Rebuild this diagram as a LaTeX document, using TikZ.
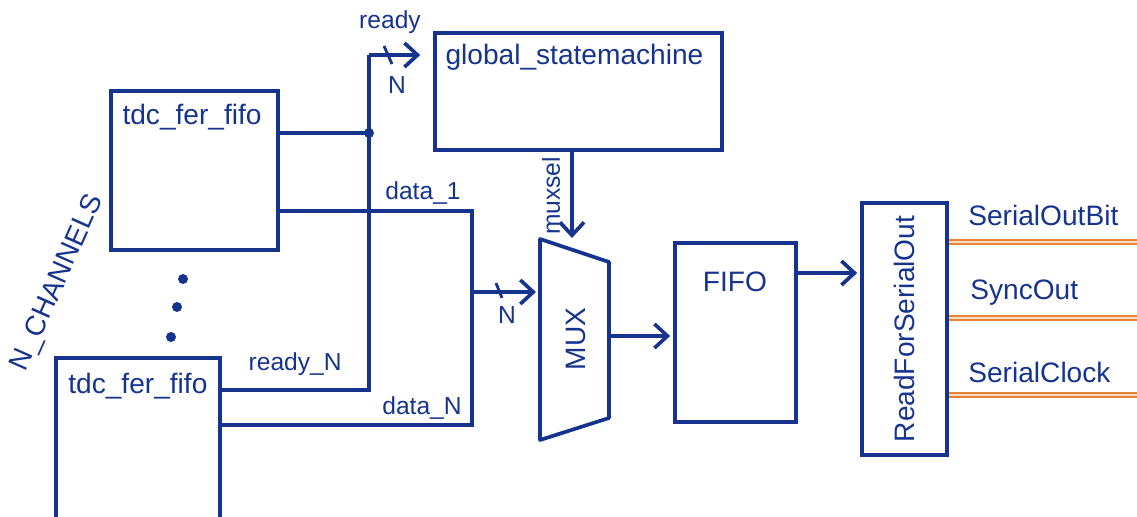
\documentclass[tikz,border=0pt]{standalone}
\usepackage{fontspec}
\setmainfont{Liberation Sans}
\usetikzlibrary{arrows.meta, positioning, calc}

\definecolor{sigblue}{RGB}{22,52,142}
\definecolor{outorange}{RGB}{228,132,52}

\tikzset{
    blk/.style={draw=sigblue, line width=2.1pt, inner sep=0pt},
    wire/.style={draw=sigblue, line width=2.1pt},
    sig/.style={wire, -{Straight Barb[length=2.6mm, width=4.8mm, line width=2.1pt]}},
    bus/.style={draw=sigblue, line width=1.6pt},
    lbl/.style={text=sigblue, font=\fontsize{14}{16}\selectfont, inner sep=0pt},
    big/.style={text=sigblue, font=\fontsize{16}{19}\selectfont, inner sep=0pt},
    outwire/.style={draw=outorange, line width=0.9pt, double=outorange!30, double distance=1.3pt},
    dot/.style={circle, fill=sigblue, inner sep=0pt, minimum size=0.2cm}
}

\begin{document}
\begin{tikzpicture}[x=0.02cm, y=-0.02cm]
    \useasboundingbox (0,0) rectangle (1137,517);

    % blocks
    \node[blk, minimum width=3.34cm, minimum height=3.18cm] (fifo1) at (194.5,170.5) {};
    \node[big, anchor=north west] (fifo1txt) at ($(fifo1.north west)+(13,15)$) {tdc\_fer\_fifo};
    \node[blk, minimum width=5.74cm, minimum height=2.34cm] (gsm) at (578.5,91.5) {};
    \node[big, anchor=north west] (gsmtxt) at ($(gsm.north west)+(12,13)$) {global\_statemachine};
    \node[blk, minimum width=2.42cm, minimum height=3.58cm] (fifo) at (735.5,332.5) {};
    \node[big] (fifotxt) at (735,282) {FIFO};
    \node[blk, minimum width=1.7cm, minimum height=5.04cm] (rso) at (904.5,329) {};
    \node[big, rotate=90] (rsotxt) at (rso.center) {ReadForSerialOut};

    % second channel, runs off the bottom edge
    \coordinate (fifoNsw) at (56,520);
    \coordinate (fifoNnw) at (56,358);
    \coordinate (fifoNne) at (220,358);
    \coordinate (fifoNse) at (220,520);
    \draw[wire] (fifoNsw) -- (fifoNnw) -- (fifoNne) -- (fifoNse);
    \node[big, anchor=north west] (fifoNtxt) at ($(fifoNnw)+(12,15)$) {tdc\_fer\_fifo};

    % multiplexer
    \coordinate (muxA) at (540,239);
    \coordinate (muxB) at (609,262);
    \coordinate (muxC) at (609,418);
    \coordinate (muxD) at (540,440);
    \draw[wire, line join=round] (muxA) -- (muxB) -- (muxC) -- (muxD) -- cycle;
    \node[big, rotate=90] (mux) at (576,339) {MUX};
    \coordinate (muxin) at (540,292);
    \coordinate (muxout) at (609,336);
    \coordinate (muxsel) at (572,238);

    % channel dots
    \node[dot] (d1) at (183,279) {};
    \node[dot] (d2) at (177,307) {};
    \node[dot] (d3) at (171,337) {};
    \node[big, rotate=66] (nch) at (58,283) {N\_CHANNELS};

    % ready lines
    \coordinate (rdyj) at (369,133);
    \coordinate (rdytop) at (369,55);
    \coordinate (rdybot) at (369,390);
    \draw[wire] (fifo1.east |- rdyj) -- (rdyj);
    \fill[sigblue] (rdyj) circle (0.1cm);
    \draw[wire] (fifoNne |- rdybot) -- (rdybot) -- (rdytop);
    \draw[sig, shorten >=0.26cm] (rdytop) -- (gsm.west |- rdytop);
    \draw[bus] (384,46) -- (392,64);
    \node[lbl] (rdylbl) at (390,22) {ready};
    \node[lbl] (rdyN) at (397,85) {N};
    \node[lbl, anchor=south east] (rdyNlbl) at (342,376) {ready\_N};

    % data lines
    \coordinate (dj) at (472,292);
    \coordinate (dtop) at (472,211);
    \coordinate (dbot) at (472,425);
    \draw[wire] (fifo1.east |- dtop) -- (dtop) -- (dbot) -- (fifoNne |- dbot);
    \draw[sig, shorten >=0.08cm] (dj) -- (muxin);
    \draw[bus] (496,283) -- (502,298);
    \node[lbl] (dN) at (507,315) {N};
    \node[lbl] (d1lbl) at (423,193) {data\_1};
    \node[lbl] (dNlbl) at (422,408) {data\_N};

    % select and output path
    \draw[sig] (gsm.south -| muxsel) -- (muxsel);
    \node[lbl, rotate=90] (sellbl) at (551,196) {muxsel};
    \draw[sig, shorten >=0.06cm] (muxout) -- (fifo.west |- muxout);
    \draw[sig, shorten >=0.06cm] (fifo.east |- 0,273) -- (rso.west |- 0,273);

    % serial outputs
    \foreach \yy in {242, 318, 395} {
        \draw[outwire] (rso.east |- 0,\yy) -- (1137,\yy);
    }
    \node[big, anchor=west] (sob) at (968,215) {SerialOutBit};
    \node[big, anchor=west] (syo) at (970,293) {SyncOut};
    \node[big, anchor=west] (scl) at (968,372) {SerialClock};
\end{tikzpicture}
\end{document}
